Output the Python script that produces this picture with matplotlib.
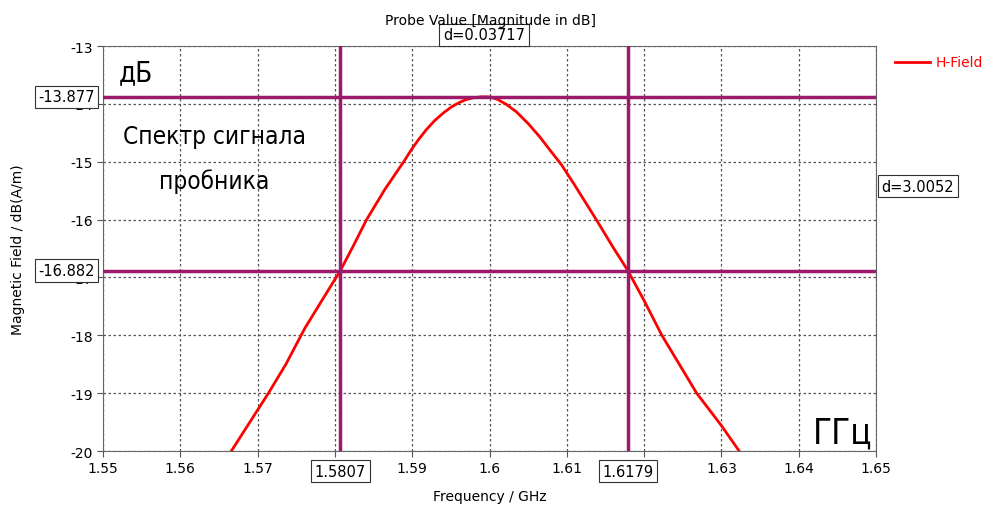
import numpy as np
import matplotlib.pyplot as plt

plt.rcParams['axes.unicode_minus'] = False

# H-Field probe spectrum
freq = [1.5666, 1.5701, 1.5714, 1.5737, 1.5761, 1.5784, 1.5807, 1.5824, 1.5841,
        1.5865, 1.5889, 1.5899, 1.5908, 1.5918, 1.5929, 1.5940, 1.5951, 1.5962,
        1.5970, 1.5979, 1.5990, 1.6000, 1.6010, 1.6022, 1.6035, 1.6050, 1.6065,
        1.6080, 1.6093, 1.6110, 1.6125, 1.6139, 1.6159, 1.6179, 1.6200, 1.6223,
        1.6268, 1.6300, 1.6323]
level = [-20.0, -19.27, -19.0, -18.49, -17.88, -17.38, -16.882, -16.45, -16.0,
         -15.47, -15.0, -14.79, -14.62, -14.45, -14.29, -14.16, -14.05, -13.97,
         -13.925, -13.895, -13.878, -13.88, -13.92, -14.01, -14.14, -14.34, -14.57,
         -14.83, -15.05, -15.40, -15.72, -16.02, -16.46, -16.882, -17.40, -18.0,
         -19.0, -19.56, -20.0]

marker_y = [-13.877, -16.882]
marker_x = [1.5807, 1.6179]
width_txt = 'd=0.03717'
drop_txt = 'd=3.0052'

xticks = [1.55, 1.56, 1.57, 1.58, 1.59, 1.6, 1.61, 1.62, 1.63, 1.64, 1.65]
yticks = [-13, -14, -15, -16, -17, -18, -19, -20]

purple = '#9c1a6c'
box = dict(boxstyle='square,pad=0.25', fc='white', ec='#333333', lw=0.8)

fig = plt.figure(figsize=(9.87, 5.06), dpi=100)
ax = fig.add_axes([0.1044, 0.1067, 0.7831, 0.8004])

ax.plot(freq, level, color='red', lw=2, label='H-Field', zorder=3)
for y in marker_y:
    ax.axhline(y, color=purple, lw=2.5, zorder=4)
for x in marker_x:
    ax.axvline(x, color=purple, lw=2.5, zorder=4)

ax.set_xlim(1.55, 1.65)
ax.set_ylim(-20, -13)
ax.set_xticks(xticks)
ax.set_xticklabels([f'{t:g}' for t in xticks])
ax.set_yticks(yticks)
ax.grid(True, color='#555555', ls=(0, (2, 2)), lw=0.9)
ax.tick_params(labelsize=10, length=4, color='#555555')
for s in ax.spines.values():
    s.set_color('#666666')

ax.set_xlabel('Frequency / GHz', fontsize=10, labelpad=10)
ax.set_ylabel('Magnetic Field / dB(A/m)', fontsize=10)
ax.yaxis.set_label_coords(-0.101, 0.5)
fig.text(0.497, 0.958, 'Probe Value [Magnitude in dB]', ha='center', va='center', fontsize=10)

# marker value boxes
for y in marker_y:
    ax.annotate(f'{y:.3f}', xy=(0, y), xycoords=('axes fraction', 'data'),
                xytext=(-6, 0), textcoords='offset points', ha='right', va='center',
                fontsize=10.5, bbox=box, zorder=5)
for x in marker_x:
    ax.annotate(f'{x:.4f}', xy=(x, 0), xycoords=('data', 'axes fraction'),
                xytext=(0, -14.5), textcoords='offset points', ha='center', va='center',
                fontsize=10.5, bbox=box, zorder=5)
ax.annotate(width_txt, xy=(sum(marker_x) / 2, 1), xycoords=('data', 'axes fraction'),
            xytext=(0, 8), textcoords='offset points', ha='center', va='center',
            fontsize=10.5, bbox=box)
ax.annotate(drop_txt, xy=(1, -15.42), xycoords=('axes fraction', 'data'),
            xytext=(4, 0), textcoords='offset points', ha='left', va='center',
            fontsize=10.5, bbox=box)

# legend
fig.add_artist(plt.Line2D([0.907, 0.942], [0.876, 0.876], color='red', lw=2))
fig.text(0.948, 0.876, 'H-Field', color='red', fontsize=10, va='center')

big = dict(family='DejaVu Sans', fontstretch='condensed')
ax.text(1.552, -13.45, 'дБ', fontsize=20, va='center', **big)
ax.text(1.5644, -14.55, 'Спектр сигнала', fontsize=17.5, ha='center', va='center', **big)
ax.text(1.5644, -15.33, 'пробника', fontsize=17.5, ha='center', va='center', **big)
ax.text(1.6457, -19.68, 'ГГц', fontsize=25, ha='center', va='center', **big)

fig.savefig('out.png', dpi=100)
